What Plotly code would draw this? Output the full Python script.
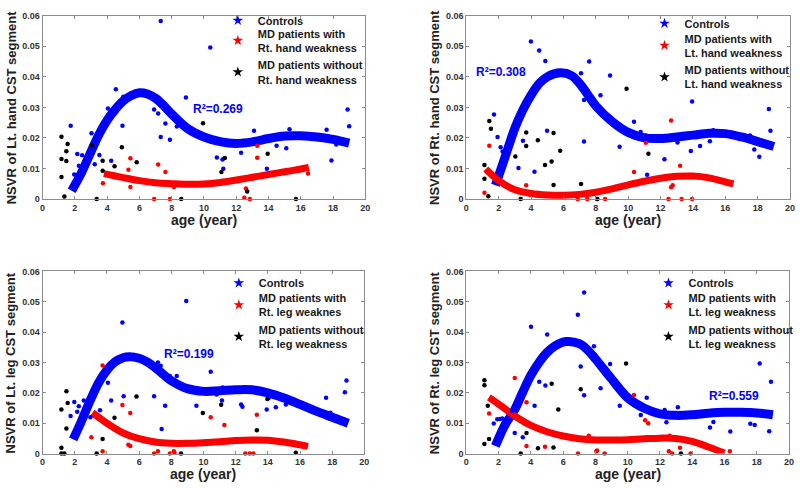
import plotly.graph_objects as go

FONT = "Arial, Liberation Sans, sans-serif"

x_ticks = [0, 2, 4, 6, 8, 10, 12, 14, 16, 18, 20]
y_ticks = [0, 0.01, 0.02, 0.03, 0.04, 0.05, 0.06]
y_tick_labels = ["0", "0.01", "0.02", "0.03", "0.04", "0.05", "0.06"]

y_titles = ["NSVR of Lt. hand CST segment", "NSVR of Rt. hand CST segment",
            "NSVR of Lt. leg CST segment", "NSVR of Rt. leg CST segment"]
x_title = "age (year)"
r2_labels = ["R²=0.269", "R²=0.308", "R²=0.199", "R²=0.559"]
legend_names = [
    ["Controls", "MD patients with<br>Rt. hand weakness", "MD patients without<br>Rt. hand weakness"],
    ["Controls", "MD patients with<br>Lt. hand weakness", "MD patients without<br>Lt. hand weakness"],
    ["Controls", "MD patients with<br>Rt. leg weaknes", "MD patients without<br>Rt. leg weakness"],
    ["Controls", "MD patients with<br>Lt. leg weakness", "MD patients without<br>Lt. leg weakness"],
]

# ---------------- Panel 1 ----------------
p1_ctrl_x = [7.32, 10.39, 4.54, 8.88, 4.05, 6.91, 7.16, 4.95, 1.74, 7.61, 8.32, 7.32, 7.89, 3.03, 2.15, 2.45,
             2.25, 1.96, 2.58, 3.23, 3.52, 4.25, 10.8, 11.15, 11.2, 12.3, 13.1, 13.9, 14.5, 15.1, 15.3, 17.6,
             17.9, 18.2, 18.9, 19.0, 5.0]
p1_ctrl_y = [0.0583, 0.0496, 0.0359, 0.0332, 0.0296, 0.0293, 0.0280, 0.0240, 0.0240, 0.0247, 0.0237, 0.0203,
             0.0194, 0.0215, 0.0147, 0.0143, 0.0109, 0.0080, 0.0120, 0.0114, 0.0144, 0.0125, 0.0136, 0.0129,
             0.0099, 0.0151, 0.0223, 0.0099, 0.0174, 0.0166, 0.0228, 0.0227, 0.0126, 0.0178, 0.0293, 0.0238, 0.0335]
p1_with_x = [3.74, 5.44, 5.32, 5.44, 7.16, 7.61, 6.91, 7.89, 8.14, 12.6, 12.5, 12.84, 13.3, 13.3, 16.45]
p1_with_y = [0.0051, 0.0039, 0.0096, 0.0133, 0.0113, 0.0088, 0.0, 0.0, 0.0039, 0.0034, 0.0004, 0.0, 0.0174,
             0.0135, 0.0083]
p1_wo_x = [1.17, 1.17, 1.17, 1.35, 1.55, 1.47, 1.47, 3.07, 3.35, 3.72, 3.72, 4.46, 4.91, 5.83, 8.59, 9.94,
           11.08, 11.29, 12.68, 13.95, 15.7]
p1_wo_y = [0.0204, 0.0131, 0.0072, 0.0008, 0.0180, 0.0156, 0.0124, 0.0176, 0.0, 0.0125, 0.0092, 0.0107,
           0.0169, 0.0120, 0.0, 0.0248, 0.0088, 0.0134, 0.0024, 0.0148, 0.0]
p1_fitc_x = [1.8, 2.4, 3.0, 3.5, 4.0, 4.5, 5.0, 5.5, 6.0, 6.5, 7.0, 7.5, 8.0, 9.0, 10.0, 11.0, 12.0, 13.0,
             14.0, 15.0, 16.0, 17.0, 18.0, 19.0]
p1_fitc_y = [0.0027, 0.0085, 0.0155, 0.0212, 0.0258, 0.0293, 0.0321, 0.0339, 0.0348, 0.0344, 0.0330, 0.0306,
             0.0278, 0.0230, 0.0203, 0.0188, 0.0182, 0.0187, 0.0198, 0.0206, 0.0207, 0.0203, 0.0195, 0.0183]
p1_fitp_x = [3.8, 5, 6, 7, 8, 9, 10, 11, 12, 13, 14, 15, 16, 16.5]
p1_fitp_y = [0.0083, 0.0070, 0.0060, 0.0053, 0.0050, 0.0048, 0.0049, 0.0054, 0.0062, 0.0071, 0.0080, 0.0089,
             0.0098, 0.0103]

# ---------------- Panel 2 ----------------
p2_ctrl_x = [3.99, 4.5, 4.88, 7.09, 7.59, 8.88, 8.29, 7.27, 1.71, 1.93, 2.12, 2.24, 2.44, 3.5, 4.99, 3.22,
             4.21, 7.27, 9.47, 10.36, 10.77, 11.09, 11.17, 12.24, 13.05, 13.87, 13.95, 14.44, 15.05, 15.25,
             17.53, 17.79, 18.1, 18.69, 18.79]
p2_ctrl_y = [0.0516, 0.0486, 0.0452, 0.0412, 0.0450, 0.0404, 0.0340, 0.0324, 0.0277, 0.0203, 0.0169, 0.0155,
             0.0152, 0.0191, 0.0223, 0.0101, 0.0089, 0.0188, 0.0171, 0.0253, 0.0219, 0.0208, 0.0079, 0.0130,
             0.0185, 0.0157, 0.0319, 0.0173, 0.0189, 0.0225, 0.0208, 0.0162, 0.0138, 0.0295, 0.0223]
p2_with_x = [1.42, 1.12, 3.7, 6.88, 7.47, 8.1, 8.57, 10.36, 11.09, 12.65, 13.21, 12.65, 12.75, 12.49, 13.3, 13.95]
p2_with_y = [0.0174, 0.0020, 0.0045, 0, 0, 0, 0, 0.0088, 0.0184, 0.0257, 0.0109, 0.0038, 0.0045, 0, 0, 0]
p2_wo_x = [1.12, 1.12, 1.36, 1.42, 1.52, 3.03, 3.36, 3.7, 3.7, 4.42, 4.86, 5.27, 5.39, 5.39, 5.8, 7.09, 8.08,
           9.9, 11.25]
p2_wo_y = [0.0111, 0.0066, 0.0009, 0.0255, 0.0230, 0.0139, 0, 0.0218, 0.0173, 0.0192, 0.0111, 0.0123, 0.0216,
           0.0046, 0.0158, 0.0049, 0, 0.0361, 0.0148]
p2_fitc_x = [1.8, 2.4, 3.0, 3.5, 4.0, 4.5, 5.0, 5.8, 6.5, 7.0, 7.5, 8.0, 9.0, 10.0, 11.0, 12.0, 13.0, 14.0,
             15.0, 16.0, 17.0, 18.0, 19.0]
p2_fitc_y = [0.0045, 0.0138, 0.0232, 0.0292, 0.0340, 0.0378, 0.0400, 0.0413, 0.0404, 0.0378, 0.0342, 0.0305,
             0.0254, 0.0218, 0.0200, 0.0198, 0.0203, 0.0209, 0.0215, 0.0214, 0.0203, 0.0188, 0.0172]
p2_fitp_x = [1.2, 2, 3, 4, 5, 6, 7, 8, 9, 10, 11, 12, 13, 14, 15, 16, 16.5]
p2_fitp_y = [0.0098, 0.0060, 0.0030, 0.0018, 0.0013, 0.0012, 0.0015, 0.0022, 0.0033, 0.0046, 0.0058, 0.0068,
             0.0074, 0.0075, 0.0069, 0.0056, 0.0049]

# ---------------- Panel 3 ----------------
p3_ctrl_x = [8.93, 4.96, 7.17, 7.34, 7.91, 8.34, 4.06, 6.93, 5.04, 4.26, 2.56, 1.74, 1.97, 2.15, 2.25, 2.97,
             3.57, 7.4, 7.62, 10.45, 10.82, 11.19, 11.15, 12.34, 12.42, 13.93, 14.04, 14.5, 15.12, 17.62,
             17.89, 18.79, 18.89, 9.56]
p3_ctrl_y = [0.0503, 0.0432, 0.0300, 0.0289, 0.0256, 0.0256, 0.0233, 0.0189, 0.0189, 0.0175, 0.0175, 0.0124,
             0.0170, 0.0138, 0.0156, 0.0120, 0.0143, 0.0081, 0.0158, 0.0270, 0.0195, 0.0218, 0.0175, 0.0162,
             0.0154, 0.0145, 0.0182, 0.0153, 0.0162, 0.0184, 0.0135, 0.0202, 0.0241, 0.0158]
p3_with_x = [3.73, 3.03, 4.96, 5.45, 5.33, 5.45, 3.73, 6.93, 7.17, 7.91, 8.16, 8.2, 10.45, 11.3, 13.32, 12.6,
             12.87, 13.1]
p3_with_y = [0.0290, 0.0054, 0.0160, 0.0134, 0.0029, 0.0025, 0.0008, 0, 0.0008, 0, 0.0008, 0.0003, 0.0120,
             0.0094, 0.0128, 0, 0, 0]
p3_wo_x = [1.17, 1.17, 1.17, 1.35, 1.48, 1.56, 1.48, 3.36, 3.73, 4.47, 5.84, 8.6, 9.96, 11.1, 13.32, 13.97, 15.74]
p3_wo_y = [0.0145, 0.0019, 0, 0, 0.0205, 0.0167, 0.0083, 0, 0.0048, 0.0118, 0.0188, 0, 0.0134, 0.0161, 0.0077,
           0.0180, 0.0003]
p3_fitc_x = [1.9, 2.4, 3.0, 3.5, 4.0, 4.5, 5.0, 5.4, 6.0, 6.5, 7.0, 7.5, 8.0, 9.0, 10.0, 11.0, 12.0, 13.0,
             14.0, 15.0, 16.0, 17.0, 18.0, 19.0]
p3_fitc_y = [0.0047, 0.0105, 0.0180, 0.0235, 0.0275, 0.0302, 0.0316, 0.0319, 0.0314, 0.0302, 0.0283, 0.0261,
             0.0240, 0.0214, 0.0205, 0.0207, 0.0210, 0.0210, 0.0200, 0.0183, 0.0162, 0.0140, 0.0120, 0.0100]
p3_fitp_x = [3.1, 4, 5, 6, 7, 8, 9, 10, 11, 12, 13, 14, 15, 16, 16.5]
p3_fitp_y = [0.0135, 0.0100, 0.0068, 0.0049, 0.0038, 0.0034, 0.0034, 0.0036, 0.0039, 0.0043, 0.0045, 0.0044,
             0.0038, 0.0029, 0.0024]

# ---------------- Panel 4 ----------------
p4_ctrl_x = [7.3, 6.91, 4.01, 5.01, 7.91, 8.91, 7.09, 4.52, 4.9, 7.3, 8.32, 9.51, 4.23, 1.7, 1.92, 2.09, 2.23,
             2.84, 3.0, 3.5, 11.18, 10.81, 12.29, 12.4, 13.11, 15.1, 15.31, 16.36, 17.6, 17.87, 18.18, 18.77, 18.88]
p4_ctrl_y = [0.0531, 0.0457, 0.0418, 0.0392, 0.0354, 0.0295, 0.0287, 0.0237, 0.0224, 0.0192, 0.0215, 0.0158,
             0.0158, 0.0099, 0.0113, 0.0114, 0.0116, 0.0140, 0.0068, 0.0054, 0.0184, 0.0127, 0.0144, 0.0103,
             0.0153, 0.0086, 0.0104, 0.0073, 0.0098, 0.0094, 0.0297, 0.0074, 0.0237]
p4_with_x = [3.0, 1.41, 3.73, 3.73, 4.88, 7.59, 6.92, 8.06, 8.1, 8.57, 10.39, 11.08, 11.27, 12.6, 12.55, 12.76,
             13.24, 13.9, 16.33]
p4_with_y = [0.0249, 0.0132, 0.0169, 0.0025, 0.0023, 0.0059, 0, 0.0008, 0.0010, 0, 0.0193, 0.0110, 0.0100,
             0.0059, 0.0008, 0, 0.0019, 0, 0.0008]
p4_wo_x = [1.12, 1.12, 1.33, 1.41, 1.12, 3.37, 3.73, 4.44, 5.29, 5.7, 5.4, 7.09, 9.9, 13.3]
p4_wo_y = [0.0242, 0.0225, 0.0158, 0.0048, 0.0032, 0, 0.0068, 0.0018, 0.0230, 0.0145, 0.0020, 0.0212, 0.0297, 0]
p4_fitc_x = [1.8, 2.4, 3.0, 3.5, 4.0, 4.5, 5.0, 5.5, 6.2, 7.0, 7.5, 8.0, 9.0, 10.0, 11.0, 12.0, 13.0, 14.0,
             15.0, 16.0, 17.0, 18.0, 19.0]
p4_fitc_y = [0.0025, 0.0095, 0.0145, 0.0203, 0.0258, 0.0300, 0.0333, 0.0355, 0.0369, 0.0362, 0.0342, 0.0312,
             0.0246, 0.0184, 0.0150, 0.0131, 0.0126, 0.0128, 0.0133, 0.0136, 0.0136, 0.0134, 0.0128]
p4_fitp_x = [1.4, 2, 3, 4, 5, 6, 7, 8, 9, 10, 11, 12, 13, 14, 15, 16]
p4_fitp_y = [0.0185, 0.0163, 0.0124, 0.0093, 0.0072, 0.0058, 0.0049, 0.0045, 0.0045, 0.0046, 0.0049, 0.0051,
             0.0050, 0.0040, 0.0022, 0.0002]

panels = [
    (p1_ctrl_x, p1_ctrl_y, p1_with_x, p1_with_y, p1_wo_x, p1_wo_y, p1_fitc_x, p1_fitc_y, p1_fitp_x, p1_fitp_y),
    (p2_ctrl_x, p2_ctrl_y, p2_with_x, p2_with_y, p2_wo_x, p2_wo_y, p2_fitc_x, p2_fitc_y, p2_fitp_x, p2_fitp_y),
    (p3_ctrl_x, p3_ctrl_y, p3_with_x, p3_with_y, p3_wo_x, p3_wo_y, p3_fitc_x, p3_fitc_y, p3_fitp_x, p3_fitp_y),
    (p4_ctrl_x, p4_ctrl_y, p4_with_x, p4_with_y, p4_wo_x, p4_wo_y, p4_fitc_x, p4_fitc_y, p4_fitp_x, p4_fitp_y),
]

W, H = 800, 488
# plot areas in pixels: (left, right, top, bottom)
areas = [(40, 366, 11, 198), (468, 795, 11, 198), (40, 365, 272, 458), (468, 794, 272, 458)]
# legend boxes: (left, top of "Controls" legend, top of patient legend)
legend_pos = [(217, 1, 15), (648, 4, 20), (218, 269, 285), (652, 269, 285)]
r2_pos = [(10.9, 0.0293), (2.16, 0.0415), (9.1, 0.0327), (16.58, 0.0191)]

BLUE, RED, BLACK = "#0000ff", "#ff0000", "#000000"

fig = go.Figure()
layout = dict(width=W, height=H, margin=dict(l=0, r=0, t=0, b=0),
              paper_bgcolor="white", plot_bgcolor="white", showlegend=True,
              font=dict(family=FONT))
annotations = []

for i, (cx, cy, wx, wy, ox, oy, fcx, fcy, fpx, fpy) in enumerate(panels):
    k = "" if i == 0 else str(i + 1)
    xa, ya = "x" + k, "y" + k
    lgA = "legend" if i == 0 else "legend%d" % (2 * i + 1)
    lgB = "legend%d" % (2 * i + 2)
    # fit curves
    fig.add_trace(go.Scatter(x=fcx, y=fcy, mode="lines", line=dict(color=BLUE, width=9, shape="spline"),
                             xaxis=xa, yaxis=ya, showlegend=False, hoverinfo="skip"))
    fig.add_trace(go.Scatter(x=fpx, y=fpy, mode="lines", line=dict(color=RED, width=7, shape="spline"),
                             xaxis=xa, yaxis=ya, showlegend=False, hoverinfo="skip"))
    # data points
    for xs, ys, col in [(cx, cy, BLUE), (wx, wy, RED), (ox, oy, BLACK)]:
        fig.add_trace(go.Scatter(x=xs, y=ys, mode="markers", cliponaxis=False,
                                 marker=dict(color=col, size=4.5, symbol="circle"),
                                 xaxis=xa, yaxis=ya, showlegend=False))
    # legend entries (star symbols)
    for name, col, lg in zip(legend_names[i], [BLUE, RED, BLACK], [lgA, lgB, lgB]):
        fig.add_trace(go.Scatter(x=[None], y=[None], mode="markers", name=name,
                                 marker=dict(color=col, size=8, symbol="star"),
                                 xaxis=xa, yaxis=ya, legend=lg))
    l, r, t, b = areas[i]
    axcommon = dict(showgrid=False, zeroline=False, showline=True, linecolor="#8c8c8c", linewidth=1,
                    mirror="ticks", ticks="inside", ticklen=3, tickcolor="#8c8c8c",
                    tickfont=dict(size=9, family=FONT, color="#333333", weight="bold"), fixedrange=True)
    layout["xaxis" + k] = dict(axcommon, domain=[l / W, r / W], range=[0, 20], tickvals=x_ticks,
                               ticktext=[str(v) for v in x_ticks], anchor=ya)
    layout["yaxis" + k] = dict(axcommon, domain=[1 - b / H, 1 - t / H], range=[0, 0.06], tickvals=y_ticks,
                               ticktext=y_tick_labels, anchor=xa)
    lx, lyA, lyB = legend_pos[i]
    for lg, ly in [(lgA, lyA), (lgB, lyB)]:
        layout[lg] = dict(x=lx / W, y=1 - ly / H, xanchor="left", yanchor="top", bgcolor="rgba(0,0,0,0)",
                          font=dict(size=11, family=FONT, color="#1a1a1a", weight="bold"),
                          itemwidth=30, tracegroupgap=0, itemclick=False, itemdoubleclick=False)
    # axis titles
    annotations.append(dict(x=(l + r) / 2 / W, y=1 - (b + 21) / H, xref="paper", yref="paper",
                            text="<b>%s</b>" % x_title, showarrow=False, xanchor="center", yanchor="middle",
                            font=dict(size=14, family=FONT, color="#222222")))
    annotations.append(dict(x=(l - 32) / W, y=1 - (t + b) / 2 / H, xref="paper", yref="paper",
                            text="<b>%s</b>" % y_titles[i], showarrow=False, textangle=-90,
                            xanchor="center", yanchor="middle",
                            font=dict(size=13, family=FONT, color="#222222")))
    rx, ry = r2_pos[i]
    annotations.append(dict(x=rx, y=ry, xref=xa, yref=ya, text="<b>%s</b>" % r2_labels[i], showarrow=False,
                            xanchor="center", yanchor="middle", font=dict(size=12, family=FONT, color=BLUE)))

layout["annotations"] = annotations
fig.update_layout(**layout)
fig.write_html("out.html", config={"displayModeBar": False},
               post_script="document.body.style.margin='0px';")
